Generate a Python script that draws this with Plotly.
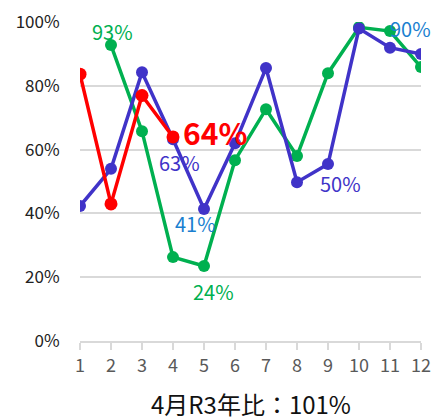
import plotly.graph_objects as go

months = [1, 2, 3, 4, 5, 6, 7, 8, 9, 10, 11, 12]
green_vals = [None, 92.8, 65.8, 26.3, 23.5, 56.7, 72.7, 58.0, 84.0, 98.4, 97.2, 85.9]
blue_vals = [42.3, 54.0, 84.3, 63.3, 41.4, 62.0, 85.6, 49.8, 55.5, 98.0, 92.0, 90.0]
red_vals = [83.7, 43.0, 77.0, 64.0]
y_ticks = [0, 20, 40, 60, 80, 100]
y_tick_labels = ["0%", "20%", "40%", "60%", "80%", "100%"]

GREEN = "#00b050"
BLUE = "#4033c8"
RED = "#ff0000"
LBLUE = "#1a7fd0"
FONT = "Noto Sans CJK JP"

fig = go.Figure()
fig.add_trace(go.Scatter(x=months, y=green_vals, mode="lines+markers",
                         line=dict(color=GREEN, width=3.5),
                         marker=dict(color=GREEN, size=12), connectgaps=False))
fig.add_trace(go.Scatter(x=months, y=blue_vals, mode="lines+markers",
                         line=dict(color=BLUE, width=3.5),
                         marker=dict(color=BLUE, size=12)))
fig.add_trace(go.Scatter(x=months[:4], y=red_vals, mode="lines+markers",
                         line=dict(color=RED, width=3.5),
                         marker=dict(color=RED, size=13)))

labels = [
    (2, green_vals[1], "93%", GREEN, 20, False, 0.06, 4.4),
    (4, blue_vals[3], "63%", BLUE, 20, False, 0.2, -7.2),
    (4, red_vals[3], "64%", RED, 30, True, 1.36, 1.6),
    (5, blue_vals[4], "41%", LBLUE, 20, False, -0.26, -4.7),
    (5, green_vals[4], "24%", GREEN, 20, False, 0.32, -8.1),
    (8, blue_vals[7], "50%", BLUE, 20, False, 1.39, -0.3),
    (12, blue_vals[11], "90%", LBLUE, 20, False, -0.35, 8.1),
]
for x, y, t, c, s, b, dx, dy in labels:
    fig.add_annotation(x=x + dx, y=y + dy, text=f"<b>{t}</b>" if b else t,
                       showarrow=False, font=dict(color=c, size=s, family=FONT))

fig.add_annotation(x=0.5, y=-0.195, xref="paper", yref="paper", yanchor="middle",
                   text="4月R3年比：101%", showarrow=False,
                   font=dict(size=24, color="#111111", family=FONT))

fig.update_layout(
    width=433, height=420, margin=dict(l=80, r=12, t=22, b=79),
    plot_bgcolor="white", paper_bgcolor="white", showlegend=False,
    font=dict(family=FONT),
)
fig.update_xaxes(range=[1, 12], tickmode="array", tickvals=months,
                 ticktext=[str(m) for m in months], automargin=False,
                 showgrid=False, showline=True, linecolor="#d9d9d9", linewidth=2,
                 ticks="outside", ticklen=7, tickcolor="#d9d9d9", tickwidth=2,
                 tickfont=dict(size=18, color="#595959"), zeroline=False)
fig.update_yaxes(range=[-0.01, 100.05], tickvals=y_ticks, ticktext=y_tick_labels,
                 automargin=False,
                 showgrid=True, gridcolor="#d9d9d9", gridwidth=2, zeroline=False,
                 ticks="outside", ticklen=16, tickcolor="white",
                 tickfont=dict(size=17, color="#222222"))

fig.write_html("out.html", config={"displayModeBar": False},
               post_script="document.body.style.margin='0';document.body.style.overflow='hidden';")
